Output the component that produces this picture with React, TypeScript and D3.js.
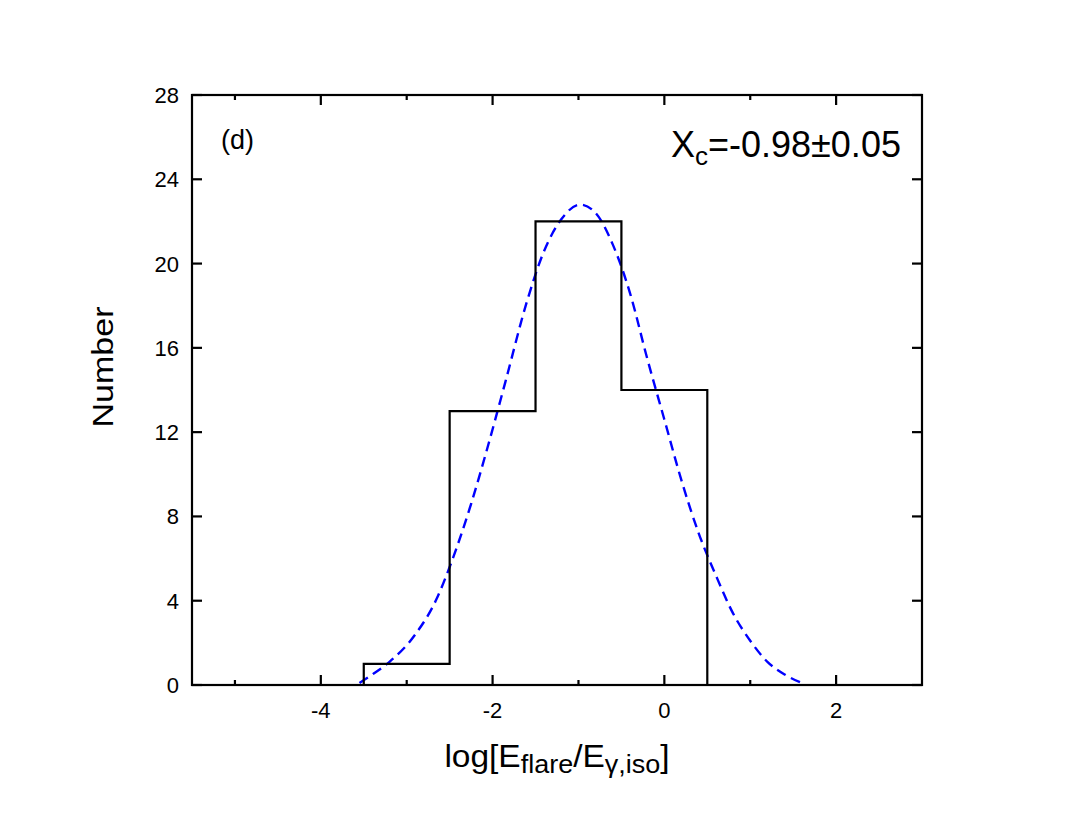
import * as d3 from "d3";

// histogram bins (left edges + last right edge) and counts
const binEdges = [-3.5, -2.5, -1.5, -0.5, 0.5];
const binCounts = [1, 13, 22, 14];

// gaussian fit curve
const fitX = [-3.55, -3.4, -3.2, -2.9, -2.65, -2.5, -2.25, -2.05, -1.85, -1.6, -1.4, -1.2, -0.98, -0.8, -0.6, -0.4, -0.2, 0, 0.2, 0.4, 0.6, 0.8, 1.0, 1.2, 1.4, 1.6];
const fitY = [0.1, 0.5, 1.1, 2.4, 4.1, 5.6, 8.6, 11.4, 14.4, 18.2, 20.6, 22.1, 22.8, 22.4, 20.9, 18.6, 15.5, 12.6, 9.7, 7.2, 5.2, 3.4, 2.1, 1.1, 0.5, 0.1];

const xMajorTicks = [-4, -2, 0, 2];
const xMinorTicks = [-5, -3, -1, 1];
const yTicks = [0, 4, 8, 12, 16, 20, 24, 28];

const W = 1072;
const H = 821;
const FONT = "'Liberation Sans', Arial, Helvetica, sans-serif";

export default function App() {
  const left = 192, right = 922, top = 95, bottom = 685;
  const x = d3.scaleLinear().domain([-5.5, 3]).range([left, right]);
  const y = d3.scaleLinear().domain([0, 28]).range([bottom, top]);

  // step outline of the histogram
  const stepPts: [number, number][] = [[binEdges[0], 0]];
  binCounts.forEach((c, i) => stepPts.push([binEdges[i], c]));
  stepPts.push([binEdges[binEdges.length - 1], 0]);
  const histPath = d3
    .line<[number, number]>()
    .x((d) => x(d[0]))
    .y((d) => y(d[1]))
    .curve(d3.curveStepAfter)(stepPts)!;

  const fitPath = d3
    .line<number>()
    .x((d) => x(d))
    .y((_, i) => y(fitY[i]))
    .curve(d3.curveMonotoneX)(fitX)!;

  const major = 10;
  const minor = 5;

  return (
    <svg
      width={W}
      height={H}
      style={{ position: "absolute", left: 0, top: 0, background: "#fff" }}
      fontFamily={FONT}
    >
      <rect width={W} height={H} fill="#fff" />

      {/* fit */}
      <path d={fitPath} fill="none" stroke="#0000ff" strokeWidth={2.4} strokeDasharray="10,6" />
      {/* histogram */}
      <path d={histPath} fill="none" stroke="#000" strokeWidth={2.2} />

      {/* frame */}
      <rect x={left} y={top} width={right - left} height={bottom - top} fill="none" stroke="#000" strokeWidth={2.2} />

      {/* x ticks, bottom and top */}
      <g stroke="#000" strokeWidth={2.2}>
        {xMajorTicks.map((t) => (
          <g key={"xM" + t}>
            <line x1={x(t)} x2={x(t)} y1={bottom} y2={bottom - major} />
            <line x1={x(t)} x2={x(t)} y1={top} y2={top + major} />
          </g>
        ))}
        {xMinorTicks.map((t) => (
          <g key={"xm" + t}>
            <line x1={x(t)} x2={x(t)} y1={bottom} y2={bottom - minor} />
            <line x1={x(t)} x2={x(t)} y1={top} y2={top + minor} />
          </g>
        ))}
        {yTicks.map((t) => (
          <g key={"y" + t}>
            <line x1={left} x2={left + major} y1={y(t)} y2={y(t)} />
            <line x1={right} x2={right - major} y1={y(t)} y2={y(t)} />
          </g>
        ))}
      </g>

      {/* tick labels */}
      <g fontSize={22} fill="#000">
        {xMajorTicks.map((t) => (
          <text key={"xl" + t} x={x(t)} y={bottom + 33} textAnchor="middle">
            {t}
          </text>
        ))}
        {yTicks.map((t) => (
          <text key={"yl" + t} x={179} y={y(t) + 8} textAnchor="end">
            {t}
          </text>
        ))}
      </g>

      {/* panel label */}
      <text x={221} y={149} fontSize={27}>(d)</text>

      {/* fit centre */}
      <text x={671} y={157} fontSize={36}>
        X
        <tspan fontSize={26} dy={8}>c</tspan>
        <tspan dy={-8}>=-0.98±0.05</tspan>
      </text>

      {/* axis titles */}
      <g transform={`translate(${(left + right) / 2},767) scale(1.08,1)`}>
        <text x={0} y={0} fontSize={31} textAnchor="middle">
          log[E
          <tspan fontSize={25} dy={6}>flare</tspan>
          <tspan dy={-6}>/E</tspan>
          <tspan fontSize={25} dy={6}>γ,iso</tspan>
          <tspan dy={-6}>]</tspan>
        </text>
      </g>
      <text
        transform="translate(113,367) rotate(-90)"
        fontSize={29}
        textAnchor="middle"
        textLength={121}
        lengthAdjust="spacingAndGlyphs"
      >
        Number
      </text>
    </svg>
  );
}
